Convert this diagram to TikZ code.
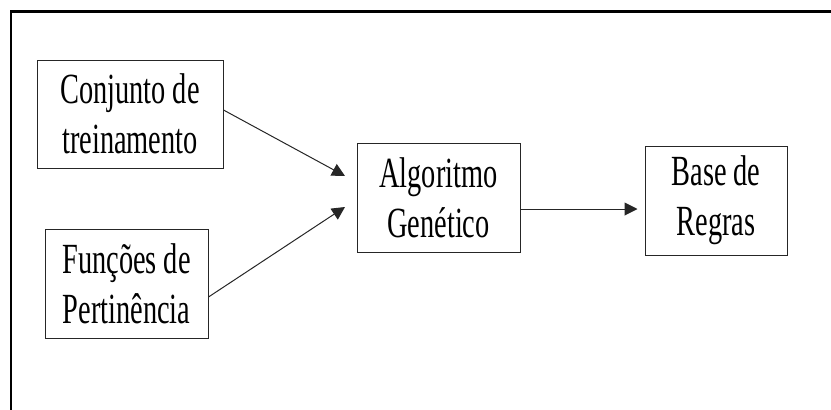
\documentclass[tikz,border=0pt]{standalone}
\usepackage{fontspec}
\setmainfont{Liberation Serif}[FakeStretch=0.66]
\usetikzlibrary{arrows.meta}
\begin{document}
\begin{tikzpicture}[x=1pt,y=-1pt,
  box/.style={draw=black!85, line width=1pt, rectangle, inner sep=0pt, align=center,
    font=\fontsize{43}{50}\selectfont},
  conn/.style={draw=black!85, line width=1pt, -{Triangle[length=13pt,width=13pt]}}]
\useasboundingbox (0,0) rectangle (831,410);
\draw[line width=2pt] (11.3,410) -- (11.3,10.5);
\draw[line width=2.8pt] (10.3,11.4) -- (831,11.4);
\node[box, minimum width=186pt, minimum height=108pt] (b1) at (130,114) {Conjunto de\\treinamento};
\node[box, minimum width=163pt, minimum height=109pt] (b2) at (126.5,283.5) {Funções de\\Pertinência};
\node[box, minimum width=163pt, minimum height=109pt] (b3) at (438.5,197.5) {Algoritmo\\Genético};
\node[box, minimum width=142pt, minimum height=109pt] (b4) at (716,200.5) {Base de\\Regras};
\coordinate (t1) at (345,176);
\coordinate (t2) at (345,207);
\coordinate (s1) at (b1.east |- 0,110);
\coordinate (s2) at (b2.east |- 0,297);
\coordinate (s3) at (b3.east |- 0,209);
\coordinate (t3) at (b4.west |- 0,209);
\draw[conn] (s1) -- (t1);
\draw[conn] (s2) -- (t2);
\draw[conn, shorten >=7pt] (s3) -- (t3);
\end{tikzpicture}
\end{document}
